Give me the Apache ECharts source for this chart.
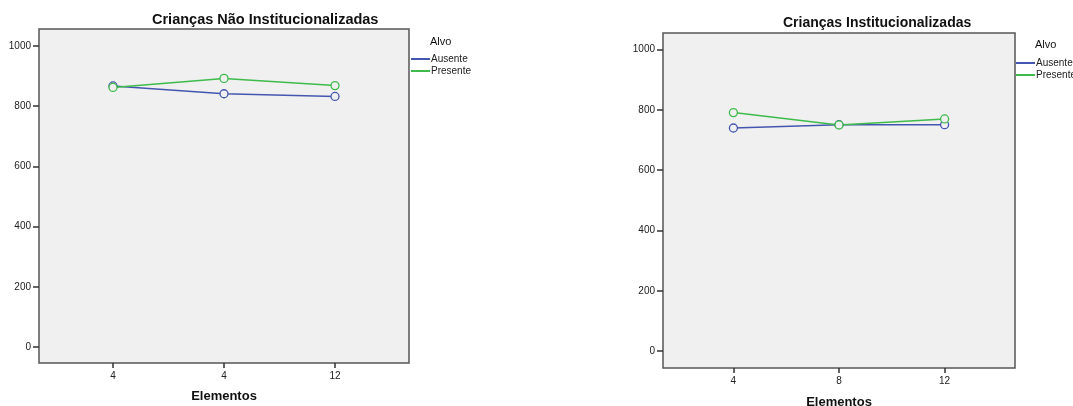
<!DOCTYPE html>
<html>
<head>
<meta charset="utf-8">
<script src="https://cdn.jsdelivr.net/npm/echarts@6/dist/echarts.min.js"></script>
<style>
  html, body { margin: 0; padding: 0; background: #fff; }
  #chart { width: 1073px; height: 406px; }
</style>
</head>
<body>
<div id="chart"></div>
<script>
'use strict';

// dados
var catsNao = ['4', '4', '12'];
var catsInst = ['4', '8', '12'];
var ausenteNao = [867, 841, 832];
var presenteNao = [862, 892, 868];
var ausenteInst = [740, 751, 751];
var presenteInst = [791, 750, 770];
var yTicks = [0, 200, 400, 600, 800, 1000];

var AZUL = '#4457b0';
var VERDE = '#3ebb4b';
var FONT = 'Liberation Sans';

function pts(vals) {
  return vals.map(function (v, i) { return [i + 1, v]; });
}

function xAxisFor(idx, cats, nameGap) {
  return {
    type: 'value',
    gridIndex: idx,
    min: 1 - 2 / 3,
    max: cats.length + 2 / 3,
    name: 'Elementos',
    nameLocation: 'middle',
    nameGap: nameGap,
    nameTextStyle: { fontFamily: FONT, fontSize: 13, fontWeight: 'bold', color: '#111' },
    splitLine: { show: false },
    axisLine: { show: false, onZero: false },
    axisTick: { show: true, length: 5, lineStyle: { color: '#333', width: 1.5 }, customValues: [1, 2, 3] },
    axisLabel: {
      fontFamily: FONT, fontSize: 10, color: '#222', margin: 8,
      customValues: [1, 2, 3],
      formatter: function (v) { return cats[Math.round(v) - 1]; }
    }
  };
}

function yAxisFor(idx, min, max) {
  return {
    type: 'value',
    gridIndex: idx,
    min: min,
    max: max,
    splitLine: { show: false },
    axisLine: { show: false, onZero: false },
    axisTick: { show: true, length: 6, lineStyle: { color: '#333', width: 1.5 }, customValues: yTicks },
    axisLabel: {
      fontFamily: FONT, fontSize: 10, color: '#222', margin: 8, customValues: yTicks,
      formatter: function (v) { return String(v); }
    }
  };
}

function serie(name, color, idx, vals) {
  return {
    name: name,
    type: 'line',
    xAxisIndex: idx,
    yAxisIndex: idx,
    data: pts(vals),
    symbol: 'circle',
    symbolSize: 8,
    lineStyle: { color: color, width: 1.5 },
    itemStyle: { color: '#f0f0f0', borderColor: color, borderWidth: 1.3 },
    emphasis: { disabled: true },
    animation: false
  };
}

function legendFor(left, top) {
  return {
    left: left,
    top: top,
    padding: 0,
    orient: 'vertical',
    icon: 'rect',
    itemWidth: 19,
    itemHeight: 2,
    itemGap: 0,
    selectedMode: false,
    textStyle: { fontFamily: FONT, fontSize: 10, color: '#222', lineHeight: 12, padding: [0, 0, 0, -4] },
    data: [
      { name: 'Ausente', itemStyle: { color: AZUL, borderWidth: 0 } },
      { name: 'Presente', itemStyle: { color: VERDE, borderWidth: 0 } }
    ]
  };
}

function titulo(text, left, top, size, weight) {
  return {
    text: text, left: left, top: top, padding: 0,
    textStyle: { fontFamily: FONT, fontSize: size, fontWeight: weight, color: '#111' }
  };
}

var option = {
  backgroundColor: '#fff',
  animation: false,
  title: [
    titulo('Crianças Não Institucionalizadas', 152, 12, 14.5, 'bold'),
    titulo('Crianças Institucionalizadas', 783, 16, 14, 'bold'),
    titulo('Alvo', 430, 36, 11, 'normal'),
    titulo('Alvo', 1035, 39, 11, 'normal')
  ],
  legend: [legendFor(411, 53), legendFor(1016, 57)],
  grid: [
    { left: 39, top: 29, width: 370, height: 334, show: true, containLabel: false, outerBoundsMode: 'none',
      backgroundColor: '#f0f0f0', borderColor: '#555', borderWidth: 1.5 },
    { left: 663, top: 33, width: 352, height: 335, show: true, containLabel: false, outerBoundsMode: 'none',
      backgroundColor: '#f0f0f0', borderColor: '#555', borderWidth: 1.5 }
  ],
  xAxis: [xAxisFor(0, catsNao, 27), xAxisFor(1, catsInst, 28)],
  yAxis: [yAxisFor(0, -53, 1056), yAxisFor(1, -56, 1055)],
  series: [
    serie('Ausente', AZUL, 0, ausenteNao),
    serie('Presente', VERDE, 0, presenteNao),
    serie('Ausente', AZUL, 1, ausenteInst),
    serie('Presente', VERDE, 1, presenteInst)
  ]
};

var chart = echarts.init(document.getElementById('chart'));
chart.setOption(option);
</script>
</body>
</html>
